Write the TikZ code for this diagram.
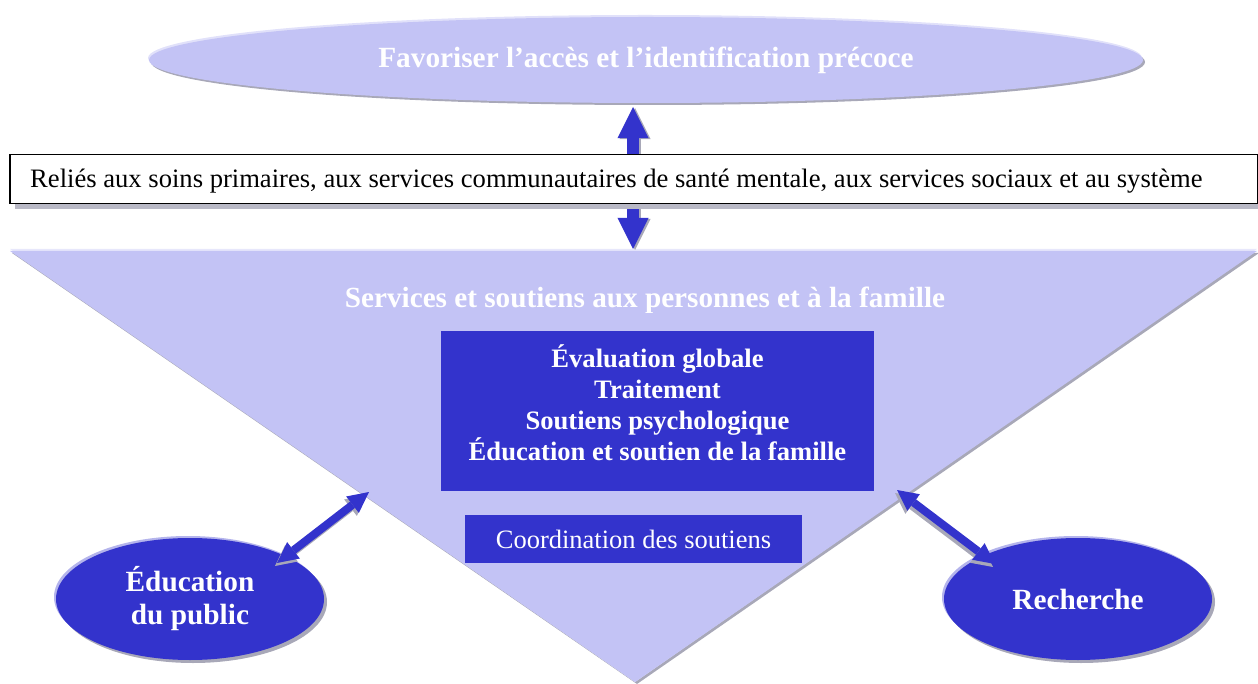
\documentclass[tikz,border=0pt]{standalone}
\usepackage{fontspec}
\setmainfont{Liberation Serif}
\usetikzlibrary{shapes.geometric,arrows.meta,calc}

\definecolor{lavender}{HTML}{C3C3F5}
\definecolor{deepblue}{HTML}{3333CC}
\definecolor{shadowgrey}{HTML}{A8A8B8}
\definecolor{rimblue}{HTML}{B4B4EC}

\tikzset{
  bigoval/.style={ellipse, inner sep=0pt, align=center, text=white,
    font=\bfseries\fontsize{29.3}{33}\selectfont},
  bluebox/.style={rectangle, inner sep=0pt, fill=deepblue, text=white, align=center},
  fatarrow/.style={draw=deepblue, line width=#1,
    {Triangle[width=2.6*#1,length=2.6*#1,line width=0pt]}-{Triangle[width=2.6*#1,length=2.6*#1,line width=0pt]}},
  fatshadow/.style={draw=shadowgrey, line width=#1,
    {Triangle[width=2.6*#1,length=2.6*#1,line width=0pt]}-{Triangle[width=2.6*#1,length=2.6*#1,line width=0pt]}},
}

\begin{document}
\begin{tikzpicture}[x=1pt,y=-1pt]
\useasboundingbox (0,0) rectangle (1258,684);

% inverted triangle holding the services
\coordinate (triL) at (10,251);
\coordinate (triR) at (1257,251);
\coordinate (triB) at (635,682);
\fill[shadowgrey] ($(triL)+(2,2)$) -- ($(triR)+(2,2)$) -- ($(triB)+(2,2)$) -- cycle;
\fill[white!60!lavender] ($(triL)+(0,-2)$) -- ($(triR)+(0,-2)$) -- (triB) -- cycle;
\fill[lavender] (triL) -- (triR) -- (triB) -- cycle;

% top oval
\fill[shadowgrey] (648,62) ellipse [x radius=497, y radius=43];
\fill[white!50!lavender] (645,58) ellipse [x radius=497, y radius=43];
\node[bigoval, fill=lavender, minimum width=994, minimum height=86] (acces) at (646,60)
  {Favoriser l’accès et l’identification précoce};

% vertical link passing behind the banner
\coordinate (tipTop) at (633,107);
\coordinate (tipBot) at (633,249);
\draw[fatshadow=12pt] ($(tipTop)+(2,1)$) -- ($(tipBot)+(2,1)$);
\draw[fatarrow=12pt] (tipTop) -- (tipBot);

% banner
\fill[shadowgrey!80] (15,160) rectangle (1262,209);
\node[draw=black, line width=1.5pt, fill=white, minimum width=1248, minimum height=49,
  inner sep=0pt, anchor=north west] (lien) at (9,154) {};
\node[anchor=west, inner sep=0pt, font=\fontsize{26.6}{30}\selectfont] (lientext)
  at ($(lien.west)+(21,2)$)
  {Reliés aux soins primaires, aux services communautaires de santé mentale, aux services sociaux et au système};

% triangle heading, cut at its lower edge
\begin{scope}
  \clip (300,280) rectangle (1000,313);
  \node[text=white, font=\bfseries\fontsize{29.2}{33}\selectfont, inner sep=0pt] (services)
    at (645,300) {Services et soutiens aux personnes et à la famille};
\end{scope}

% service boxes
\node[bluebox, minimum width=433, minimum height=160] (main) at (657.5,411) {};
\node[text=white, align=center, inner sep=0pt,
  font=\bfseries\fontsize{26.6}{31}\selectfont] (mainlist) at (657.5,403)
  {Évaluation globale\\Traitement\\Soutiens psychologique\\Éducation et soutien de la famille};
\node[bluebox, minimum width=337, minimum height=48,
  font=\fontsize{26.5}{30}\selectfont] (coord) at (633.5,539) {Coordination des soutiens};

% side ovals
\foreach \cx/\nm/\txt in {190/edu/{Éducation\\du public}, 1078/rech/{Recherche}} {
  \fill[shadowgrey] (\cx+3,602) ellipse [x radius=134, y radius=61];
  \fill[rimblue] (\cx-2,597) ellipse [x radius=134, y radius=61];
  \node[bigoval, fill=deepblue, minimum width=268, minimum height=122] (\nm) at (\cx,599) {\txt};
}

% links between the ovals and the triangle
\coordinate (eduTip) at (277,563);
\coordinate (triTipL) at (369,492);
\coordinate (triTipR) at (897,490);
\coordinate (rechTip) at (995,564);
\draw[fatshadow=8pt] ($(eduTip)+(-2,3)$) -- ($(triTipL)+(-2,3)$);
\draw[fatarrow=8pt] (eduTip) -- (triTipL);
\draw[fatshadow=8pt] ($(triTipR)+(-2,3)$) -- ($(rechTip)+(-2,3)$);
\draw[fatarrow=8pt] (triTipR) -- (rechTip);
\end{tikzpicture}
\end{document}
